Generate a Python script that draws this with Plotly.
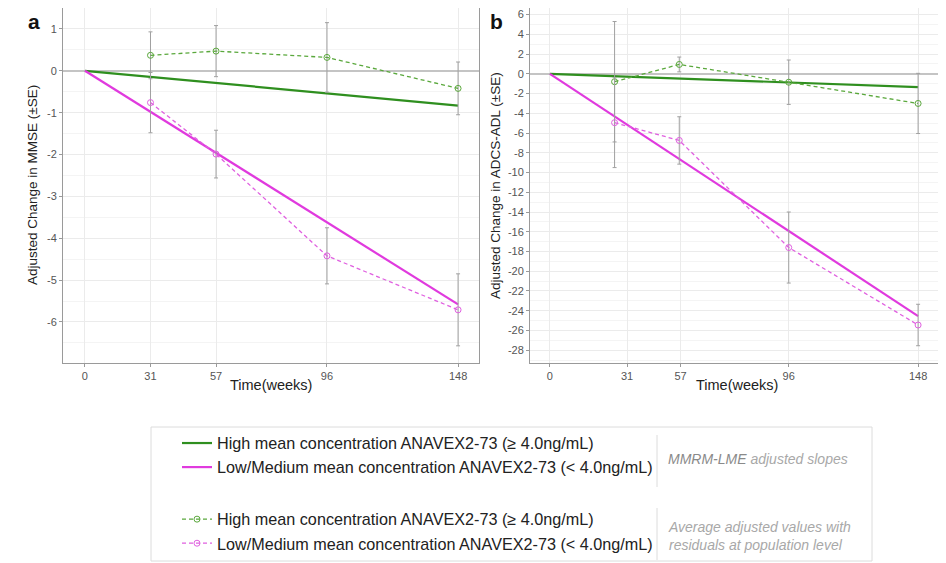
import plotly.graph_objects as go

W, H = 946, 563
OFF = 8  # page body margin


def px(x):
    return (x - OFF) / W


def py(y):
    return min(1.0, 1 - (y - OFF) / H)


# ---------------- data ----------------
visit_weeks = [26, 52, 96, 148]          # plotted visit positions
slope_weeks = [0, 148]

tick_text = ["0", "31", "57", "96", "148"]
ticks_a = [0, 26, 52, 96, 148]
ticks_b = [0, 31, 52.5, 96, 148]

yticks_a = [1, 0, -1, -2, -3, -4, -5, -6]
yticks_b = [6, 4, 2, 0, -2, -4, -6, -8, -10, -12, -14, -16, -18, -20, -22, -24, -26, -28]

# Panel a: MMSE
mmse_slope_high = [0, -0.83]
mmse_slope_low = [0, -5.58]
mmse_avg_high = [0.37, 0.47, 0.32, -0.42]
mmse_se_high = [0.56, 0.61, 0.83, 0.63]
mmse_avg_low = [-0.76, -1.99, -4.42, -5.71]
mmse_se_low = [0.72, 0.57, 0.67, 0.86]

# Panel b: ADCS-ADL
adl_slope_high = [0, -1.35]
adl_slope_low = [0, -24.55]
adl_avg_high = [-0.8, 0.95, -0.85, -3.0]
adl_se_high = [6.1, 0.75, 2.25, 3.05]
adl_avg_low = [-4.95, -6.75, -17.6, -25.45]
adl_se_low = [4.55, 2.4, 3.6, 2.1]

names = [
    "High mean concentration ANAVEX2-73 (≥ 4.0ng/mL)",
    "Low/Medium mean concentration ANAVEX2-73 (< 4.0ng/mL)",
]

GREEN = "#2f8f1f"
GREEN_D = "#5aa83c"
PINK = "#e03ade"
PINK_D = "#e060e0"
ERR = "#a0a0a0"
FONT = "Arial, Liberation Sans, sans-serif"

fig = go.Figure()


def add_panel(xa, ya, sh, sl, ah, seh, al, sel, show):
    sfx = "" if xa == "x" else xa[1:]
    xref, yref = "x" + sfx, "y" + sfx
    fig.add_trace(go.Scatter(x=slope_weeks, y=sh, mode="lines", name=names[0],
                             line=dict(color=GREEN, width=2.2), legendgroup="slopes",
                             showlegend=show, xaxis=xref, yaxis=yref))
    fig.add_trace(go.Scatter(x=slope_weeks, y=sl, mode="lines", name=names[1],
                             line=dict(color=PINK, width=2.2), legendgroup="slopes",
                             showlegend=show, xaxis=xref, yaxis=yref))
    fig.add_trace(go.Scatter(x=visit_weeks, y=ah, mode="lines+markers", name=names[0],
                             line=dict(color=GREEN_D, width=1.3, dash="4px,3px"),
                             marker=dict(symbol="circle-open", size=6, color=GREEN_D, line=dict(width=1)),
                             error_y=dict(type="data", array=seh, color=ERR, thickness=1, width=2),
                             legendgroup="avg", showlegend=show, xaxis=xref, yaxis=yref))
    fig.add_trace(go.Scatter(x=visit_weeks, y=al, mode="lines+markers", name=names[1],
                             line=dict(color=PINK_D, width=1.3, dash="4px,3px"),
                             marker=dict(symbol="circle-open", size=6, color=PINK_D, line=dict(width=1)),
                             error_y=dict(type="data", array=sel, color=ERR, thickness=1, width=2),
                             legendgroup="avg", showlegend=show, xaxis=xref, yaxis=yref))


add_panel("x", "y", mmse_slope_high, mmse_slope_low, mmse_avg_high, mmse_se_high,
          mmse_avg_low, mmse_se_low, True)
add_panel("x2", "y2", adl_slope_high, adl_slope_low, adl_avg_high, adl_se_high,
          adl_avg_low, adl_se_low, False)

ydom = [py(363), py(8)]
axis_common = dict(showline=True, linecolor="#9a9a9a", linewidth=1, mirror=True,
                   gridcolor="#ebebeb", gridwidth=1, ticks="outside", ticklen=3,
                   tickcolor="#9a9a9a", tickfont=dict(family=FONT, size=11, color="#555"))

fig.update_layout(
    width=W, height=H,
    margin=dict(l=0, r=0, t=0, b=0),
    paper_bgcolor="white", plot_bgcolor="white",
    font=dict(family=FONT, color="#222"),
    xaxis=dict(domain=[px(63), px(479)], range=[-8.7, 156.3], tickmode="array",
               tickvals=ticks_a, ticktext=tick_text, zeroline=False, **axis_common),
    yaxis=dict(domain=ydom, range=[-6.98, 1.50], tickmode="array", tickvals=yticks_a,
               ticktext=[str(v) for v in yticks_a], zeroline=True,
               zerolinecolor="#c4c4c4", zerolinewidth=2,
               minor=dict(dtick=0.5, showgrid=True, gridcolor="#f4f4f4"), **axis_common),
    xaxis2=dict(domain=[px(530), px(938)], range=[-8.0, 156.0], tickmode="array",
                tickvals=ticks_b, ticktext=tick_text, zeroline=False, anchor="y2", **axis_common),
    yaxis2=dict(domain=ydom, range=[-29.3, 6.67], tickmode="array", tickvals=yticks_b,
                ticktext=[str(v) for v in yticks_b], zeroline=True, anchor="x2",
                zerolinecolor="#c4c4c4", zerolinewidth=2,
                minor=dict(dtick=1, showgrid=True, gridcolor="#f4f4f4"), **axis_common),
    legend=dict(x=px(177), y=py(426), xanchor="left", yanchor="top",
                font=dict(family=FONT, size=16.2, color="#222"),
                bgcolor="rgba(0,0,0,0)", borderwidth=0,
                traceorder="grouped", tracegroupgap=28),
    showlegend=True,
)

ann = [
    dict(text="<b>a</b>", x=px(34), y=py(22), font=dict(size=21, color="#111")),
    dict(text="<b>b</b>", x=px(497), y=py(22), font=dict(size=21, color="#111")),
    dict(text="Adjusted Change in MMSE (±SE)", x=px(33), y=py(185), textangle=-90,
         font=dict(size=13.5, color="#222")),
    dict(text="Adjusted Change in ADCS-ADL (±SE)", x=px(496), y=py(185), textangle=-90,
         font=dict(size=13.5, color="#222")),
    dict(text="Time(weeks)", x=px(271), y=py(385), font=dict(size=14.5, color="#222")),
    dict(text="Time(weeks)", x=px(737), y=py(385), font=dict(size=14.5, color="#222")),
    dict(text="<i><span style='color:#8a8a8a'>MMRM-LME</span> adjusted slopes</i>",
         x=px(666), y=py(459), xanchor="left", font=dict(size=14, color="#a8a8a8")),
    dict(text="<i>Average adjusted values with<br>residuals at population level</i>",
         x=px(666), y=py(536), xanchor="left", align="left",
         font=dict(size=14, color="#a8a8a8")),
]
for a in ann:
    a.setdefault("xanchor", "center")
    a.update(xref="paper", yref="paper", showarrow=False, yanchor="middle")
    a["font"]["family"] = FONT
fig.update_layout(annotations=ann)

shapes = [
    dict(type="rect", x0=px(151), x1=px(872), y0=py(561), y1=py(427),
         line=dict(color="#dcdcdc", width=1)),
    dict(type="line", x0=px(657), x1=px(657), y0=py(487), y1=py(435),
         line=dict(color="#dcdcdc", width=1)),
    dict(type="line", x0=px(657), x1=px(657), y0=py(560), y1=py(508),
         line=dict(color="#dcdcdc", width=1)),
]
for s in shapes:
    s.update(xref="paper", yref="paper")
fig.update_layout(shapes=shapes)

fig.write_html("out.html")
